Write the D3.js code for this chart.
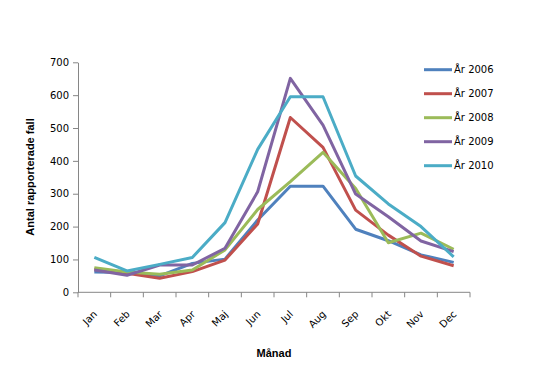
<!DOCTYPE html>
<html><head><meta charset="utf-8">
<script src="https://cdn.jsdelivr.net/npm/d3@7/dist/d3.min.js"></script>
<style>body{margin:0;background:#fff}svg{display:block}</style>
</head><body>
<svg id="chart" width="552" height="365"></svg>
<script>
const months = ["Jan","Feb","Mar","Apr","Maj","Jun","Jul","Aug","Sep","Okt","Nov","Dec"];
const seriesNames = ["År 2006","År 2007","År 2008","År 2009","År 2010"];
const colors = ["#4F81BD","#C0504D","#9BBB59","#8064A2","#4BACC6"];
const y2006 = [62, 60, 50, 88, 101, 220, 323, 323, 192, 157, 114, 91];
const y2007 = [70, 58, 43, 63, 98, 208, 532, 441, 250, 174, 110, 81];
const y2008 = [75, 62, 55, 68, 129, 252, 337, 426, 316, 151, 180, 131];
const y2009 = [68, 52, 83, 83, 134, 306, 651, 509, 299, 230, 156, 124];
const y2010 = [106, 65, 85, 106, 212, 435, 595, 595, 354, 269, 200, 108];
const yTicks = [0,100,200,300,400,500,600,700];
const seriesValues = [y2006, y2007, y2008, y2009, y2010];

const svg = d3.select("#chart");
const plotLeft = 78, plotRight = 470, plotTop = 62.3, plotBottom = 292.3;
const x = d3.scaleBand().domain(months).range([plotLeft, plotRight]);
const y = d3.scaleLinear().domain([0,700]).range([plotBottom, plotTop]);
const axisColor = "#868686";
const tickFont = "'DejaVu Sans', Verdana, sans-serif";

// Y axis
const yAxis = svg.append("g").attr("transform", `translate(${plotLeft},0)`)
  .call(d3.axisLeft(y).tickValues(yTicks).tickSize(5).tickSizeOuter(0).tickPadding(4));
yAxis.selectAll("path, line").attr("stroke", axisColor);
yAxis.selectAll("text").attr("font-family", tickFont).attr("font-size", 10).attr("fill", "#000");

// X axis
const xAxis = svg.append("g").attr("transform", `translate(0,${plotBottom})`);
xAxis.append("line").attr("x1", plotLeft).attr("x2", plotRight).attr("y1", 0).attr("y2", 0).attr("stroke", axisColor);
const bounds = months.map(m => x(m)).concat([plotRight]);
xAxis.selectAll("line.tk").data(bounds).join("line").attr("class","tk")
  .attr("x1", d => d).attr("x2", d => d).attr("y1", 0).attr("y2", 5).attr("stroke", axisColor);
xAxis.selectAll("text.lbl").data(months).join("text").attr("class","lbl")
  .attr("transform", d => `translate(${x(d) + x.bandwidth()/2 + 1},${20}) rotate(-45)`)
  .attr("text-anchor", "end")
  .attr("dy", "0.35em")
  .attr("font-family", tickFont).attr("font-size", 10).attr("fill", "#000")
  .text(d => d);

// Lines
const line = d3.line().x((d,i) => x(months[i]) + x.bandwidth()/2).y(d => y(d));
seriesValues.forEach((vals, k) => {
  svg.append("path").datum(vals).attr("d", line)
    .attr("fill", "none").attr("stroke", colors[k]).attr("stroke-width", 3)
    .attr("stroke-linejoin", "round").attr("stroke-linecap", "butt");
});

// Legend
const legend = svg.append("g");
seriesNames.forEach((name, k) => {
  const ly = 69.7 + k * 24;
  legend.append("line").attr("x1", 424).attr("x2", 452).attr("y1", ly).attr("y2", ly)
    .attr("stroke", colors[k]).attr("stroke-width", 3);
  legend.append("text").attr("x", 454).attr("y", ly).attr("dy", "0.35em")
    .attr("font-family", tickFont).attr("font-size", 10).attr("fill", "#000").text(name);
});

// Axis titles
svg.append("text").attr("transform", `translate(34,177) rotate(-90)`)
  .attr("text-anchor", "middle").attr("font-family", "'Liberation Sans', Arial, sans-serif")
  .attr("font-weight", "bold").attr("font-size", 11).attr("fill", "#000").text("Antal rapporterade fall");
svg.append("text").attr("x", 274).attr("y", 357)
  .attr("text-anchor", "middle").attr("font-family", "'Liberation Sans', Arial, sans-serif")
  .attr("font-weight", "bold").attr("font-size", 11).attr("fill", "#000").text("Månad");
</script>
</body></html>
